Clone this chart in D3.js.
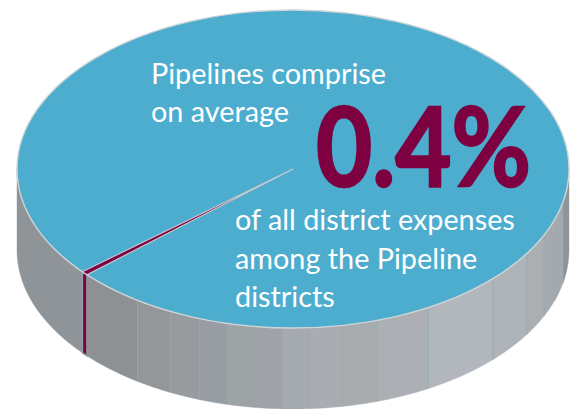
<!DOCTYPE html>
<html>
<head>
<meta charset="utf-8">
<script src="https://cdn.jsdelivr.net/npm/d3@7"></script>
<style>
  html, body { margin: 0; padding: 0; background: #fff; }
  svg { display: block; }
  text { font-family: Lato, "Noto Sans", sans-serif; }
</style>
</head>
<body>
<div id="chart"></div>
<script>
// district shares, clockwise from the highlighted pipeline slice (percent)
const shares = [0.4, 64.54, 1.75, 1.72, 2.08, 3.19, 4.75, 3.25, 2.08, 1.86, 1.61, 1.61, 1.58, 1.67, 1.83, 2.19, 3.89];
const wallColors = ["#7d0040", "#8f9498", "#a5a9ad", "#a6aaae", "#abafb1", "#aeb3b9", "#b2b7bd", "#acb0b5", "#a8acae", "#a9adb3", "#a5a9b0", "#9fa3a9", "#9ea3a6", "#989ca3", "#979b9e", "#939799", "#8d9194"];
const introLines = ["Pipelines comprise", "on average"];
const bigLabel = "0.4%";
const outroLines = ["of all district expenses", "among the Pipeline", "districts"];

const width = 576, height = 409;
const cx = 293, cy = 169, rx = 276, ry = 159, depth = 81;
const r = 100;

const svg = d3.select("#chart").append("svg")
  .attr("width", width)
  .attr("height", height);

// pie laid out in unit space then squashed into the ellipse
const pie = d3.pie().sort(null)
  .startAngle(228.3 * Math.PI / 180)
  .endAngle((228.3 + 360) * Math.PI / 180);
const arcs = pie(shares);
const arc = d3.arc().innerRadius(0).outerRadius(r);

const px = a => cx + rx * Math.sin(a);
const py = a => cy - ry * Math.cos(a);

// wall facet between two angles, only the part facing the viewer
function wallPath(a0, a1) {
  const from = Math.max(a0, Math.PI / 2), to = Math.min(a1, Math.PI * 1.5);
  const steps = d3.range(0, 41).map(i => from + (to - from) * i / 40);
  const top = steps.map(a => [px(a), py(a)]);
  const bottom = steps.slice().reverse().map(a => [px(a), py(a) + depth]);
  return d3.line()(top.concat(bottom)) + "Z";
}

// normalise angles so the wall test works past a full turn
const walls = arcs.map((d, i) => {
  let a0 = d.startAngle, a1 = d.endAngle;
  if (a0 >= Math.PI * 2) { a0 -= Math.PI * 2; a1 -= Math.PI * 2; }
  return { a0, a1, color: wallColors[i] };
});
const wallParts = [];
walls.forEach(w => {
  if (w.a1 > Math.PI * 2) {
    wallParts.push({ a0: w.a0, a1: Math.PI * 2, color: w.color });
    wallParts.push({ a0: 0, a1: w.a1 - Math.PI * 2, color: w.color });
  } else wallParts.push(w);
});
const visible = wallParts.filter(d => d.a1 > Math.PI / 2 && d.a0 < Math.PI * 1.5);

svg.append("g").selectAll("path")
  .data(visible)
  .enter()
  .append("path")
  .attr("d", d => wallPath(d.a0, d.a1))
  .attr("fill", d => d.color)
  .attr("stroke", d => d.color === "#7d0040" ? "none" : d.color)
  .attr("stroke-width", 0.4);

// maroon wall goes on top, trimmed down by a grey edge
svg.append("g").selectAll("path")
  .data(visible.filter(d => d.color === "#7d0040"))
  .enter()
  .append("path")
  .attr("d", d => wallPath(d.a0, d.a1))
  .attr("fill", d => d.color)
  .attr("stroke", "#8f9498")
  .attr("stroke-width", 1.6);

// thin teal seams between facets
svg.append("g").selectAll("line")
  .data(visible.filter(d => d.a0 > Math.PI / 2 && d.color !== "#7d0040"))
  .enter()
  .append("line")
  .attr("x1", d => px(d.a0)).attr("x2", d => px(d.a0))
  .attr("y1", d => py(d.a0)).attr("y2", d => py(d.a0) + depth)
  .attr("stroke", "#8fa9b3")
  .attr("stroke-width", 0.7);

// top of the pie
const topFace = svg.append("g")
  .attr("transform", `translate(${cx},${cy}) scale(${rx / r},${ry / r})`);

topFace.append("ellipse")
  .attr("rx", r).attr("ry", r)
  .attr("fill", "#4dadce")
  .attr("stroke", "#cfd4d7")
  .attr("stroke-width", 1.4)
  .attr("vector-effect", "non-scaling-stroke");

topFace.selectAll("path")
  .data(arcs.slice(0, 1))
  .enter()
  .append("path")
  .attr("d", arc)
  .attr("fill", "#7d0040")
  .attr("stroke", "#c9cbd2")
  .attr("stroke-width", 1.1)
  .attr("vector-effect", "non-scaling-stroke");

// labels
const white = svg.append("g").attr("fill", "#fff");
white.selectAll("text.intro")
  .data(introLines)
  .enter()
  .append("text")
  .attr("class", "intro")
  .attr("x", 151)
  .attr("y", (d, i) => 84 + i * 38)
  .attr("font-size", 28.8)
  .text(d => d);

white.selectAll("text.outro")
  .data(outroLines)
  .enter()
  .append("text")
  .attr("class", "outro")
  .attr("x", 235)
  .attr("y", (d, i) => 230 + i * 38.5)
  .attr("font-size", 28.8)
  .text(d => d);

svg.append("text")
  .attr("x", 316)
  .attr("y", 186)
  .attr("font-size", 110)
  .attr("font-weight", 700)
  .attr("fill", "#7d0040")
  .attr("stroke", "#7d0040")
  .attr("stroke-width", 2.4)
  .attr("textLength", 215)
  .attr("lengthAdjust", "spacingAndGlyphs")
  .text(bigLabel);
</script>
</body>
</html>
